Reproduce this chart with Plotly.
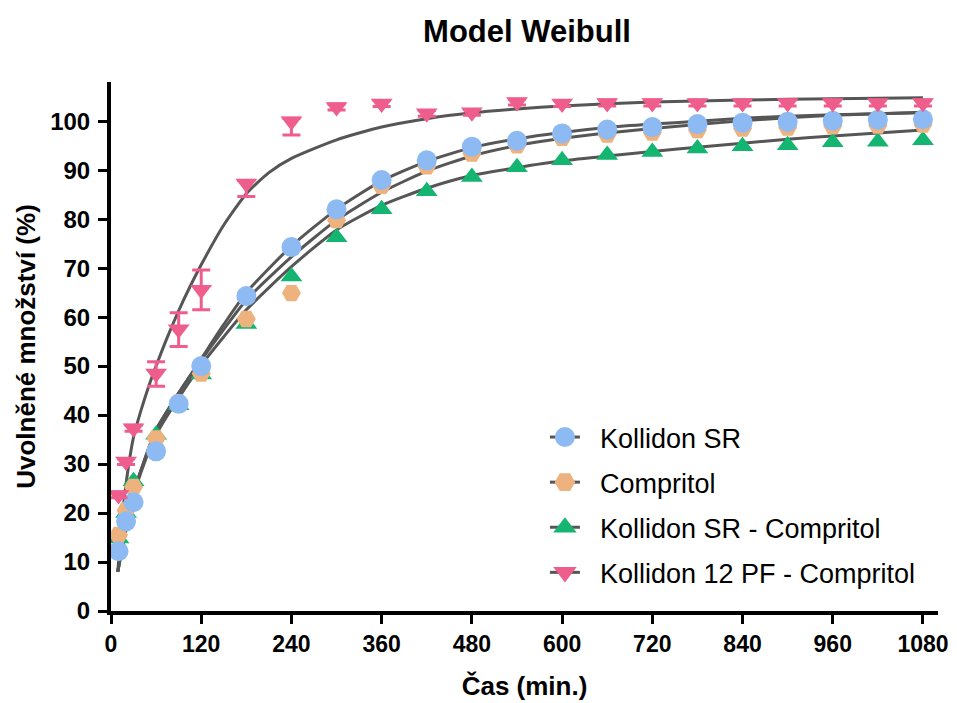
import plotly.graph_objects as go

# ---- measured data ----
time_min = [10, 20, 30, 60, 90, 120, 180, 240, 300, 360, 420, 480, 540, 600,
            660, 720, 780, 840, 900, 960, 1020, 1080]

kollidon_sr = [12.2, 18.3, 22.2, 32.6, 42.3, 50.0, 64.3, 74.3, 82.0, 88.0, 92.0,
               94.8, 96.0, 97.5, 98.3, 98.8, 99.4, 99.7, 99.9, 100.1, 100.3, 100.4]
compritol = [15.5, 20.5, 25.3, 35.2, 42.5, 48.5, 59.6, 64.9, 79.8, 86.8, 90.8,
             93.4, 95.1, 96.6, 97.3, 97.7, 98.2, 98.5, 98.7, 99.0, 99.1, 99.3]
ksr_compritol = [14.8, 20.0, 26.5, 36.0, 42.0, 48.3, 58.6, 68.3, 76.3, 82.0, 85.7,
                 88.6, 90.6, 92.0, 93.1, 93.7, 94.4, 94.9, 95.1, 95.7, 95.8, 96.1]
k12pf_compritol = [23.7, 30.5, 37.3, 48.5, 57.5, 65.6, 87.3, 100.0, 102.9, 103.6, 101.6,
                   101.8, 103.9, 103.6, 103.7, 103.7, 103.7, 103.7, 103.7, 103.7, 103.7, 103.7]
k12pf_err_plus = [0.6, 0.6, 0.6, 2.4, 3.4, 4.0, 0.6, 0.6, 0.6, 0.6, 0.6,
                  0.6, 0.6, 0.6, 0.6, 0.6, 0.6, 0.6, 0.6, 0.6, 0.6, 0.6]
k12pf_err_minus = [0.6, 0.6, 0.6, 2.6, 3.5, 4.1, 2.7, 2.8, 0.6, 0.6, 0.6,
                   0.6, 0.6, 0.6, 0.6, 0.6, 0.6, 0.6, 0.6, 0.6, 0.6, 0.6]

# Weibull fit curves
fit_t = [9, 15, 20, 30, 45, 60, 90, 120, 150, 180, 240, 300, 360, 420, 480, 540,
         600, 660, 720, 780, 840, 900, 960, 1020, 1080]
fit_ksr = [8.0, 13.0, 17.0, 24.0, 31.0, 37.0, 44.5, 51.5, 58.5, 65.0, 74.5, 82.0, 87.8,
           91.8, 94.6, 96.4, 97.7, 98.7, 99.4, 100.0, 100.6, 101.0, 101.3, 101.5, 101.7]
fit_comp = [8.0, 13.0, 17.0, 24.0, 31.0, 37.0, 44.5, 51.2, 57.5, 63.5, 72.3, 79.8, 85.5,
            89.8, 92.9, 95.0, 96.5, 97.6, 98.5, 99.3, 100.1, 100.7, 101.2, 101.5, 101.8]
fit_ksrc = [8.0, 13.0, 16.5, 23.5, 30.5, 36.0, 43.5, 50.2, 56.0, 61.5, 70.3, 77.8, 82.8,
            86.3, 88.9, 90.5, 91.9, 92.9, 93.8, 94.7, 95.5, 96.3, 97.0, 97.6, 98.2]
fit_t_pf = [9, 12, 15, 20, 30, 40, 50, 60, 75, 90, 105, 120, 150, 180, 210, 240, 300, 360,
            420, 480, 540, 600, 720, 840, 960, 1080]
fit_pf = [8.0, 14.0, 19.0, 26.0, 35.5, 41.0, 45.8, 50.0, 55.9, 61.3, 66.2, 70.7, 78.8, 85.2,
          89.5, 92.4, 96.2, 98.8, 100.5, 101.7, 102.5, 103.1, 103.9, 104.3, 104.6, 104.8]

names = ["Kollidon SR", "Compritol", "Kollidon SR - Compritol", "Kollidon 12 PF - Compritol"]
colors = ["#8dbaf2", "#edb27e", "#14b570", "#ee5d8c"]
symbols = ["circle", "hexagon2", "triangle-up", "triangle-down"]
sizes = [20, 19, 19, 19]
legend_outline = [4, 4, 2.5, 2.5]
LINE = "#565656"
FONT = "Liberation Sans, Arial, sans-serif"
NB = "\u00a0\u00a0"

fig = go.Figure()

# fit curves
for tt, vv in [(fit_t, fit_ksr), (fit_t, fit_comp), (fit_t, fit_ksrc), (fit_t_pf, fit_pf)]:
    fig.add_trace(go.Scatter(x=tt, y=vv, mode="lines", line=dict(color=LINE, width=3,
                             shape="spline", smoothing=0.6), showlegend=False,
                             hoverinfo="skip", cliponaxis=False))

# data markers (drawn green, orange, blue, pink)
series = [kollidon_sr, compritol, ksr_compritol, k12pf_compritol]
for i in [2, 1, 0, 3]:
    kw = {}
    if i == 3:
        kw["error_y"] = dict(type="data", array=k12pf_err_plus, arrayminus=k12pf_err_minus,
                             symmetric=False, color=colors[3], thickness=3, width=9)
    fig.add_trace(go.Scatter(x=time_min, y=series[i], mode="markers", name=names[i],
                             marker=dict(symbol=symbols[i], color=colors[i], size=sizes[i],
                                         line=dict(width=0)),
                             showlegend=False, cliponaxis=False, **kw))

# legend proxies (marker with fit line)
for i in range(4):
    fig.add_trace(go.Scatter(x=[None], y=[None], mode="lines+markers", name=NB + names[i],
                             line=dict(color=LINE, width=3),
                             marker=dict(symbol=symbols[i], color=colors[i], size=sizes[i],
                                         line=dict(width=legend_outline[i], color=colors[i])),
                             legendgroup=str(i)))

fig.update_layout(
    width=957, height=703,
    margin=dict(l=103, r=27, t=74, b=100),
    paper_bgcolor="white", plot_bgcolor="white",
    font=dict(family=FONT, color="black"),
    title=dict(text="Model Weibull", x=0.5423, xanchor="center", y=0.982, yanchor="top",
               yref="container", font=dict(size=31, weight="bold", family=FONT)),
    showlegend=True,
    legend=dict(x=0.5247, y=0.3743, xanchor="left", yanchor="top", bgcolor="rgba(0,0,0,0)",
                font=dict(size=27, family=FONT), tracegroupgap=7, itemsizing="trace"),
    xaxis=dict(range=[0, 1100], tickvals=[0, 120, 240, 360, 480, 600, 720, 840, 960, 1080],
               showgrid=False, zeroline=False, showline=True, linecolor="black", linewidth=4,
               ticks="outside", ticklen=9, tickwidth=3, tickcolor="black", automargin=False,
               tickfont=dict(size=23, weight="bold", family=FONT),
               title=dict(text="Čas (min.)", font=dict(size=26, weight="bold", family=FONT),
                          standoff=22)),
    yaxis=dict(range=[0, 108], tickvals=[0, 10, 20, 30, 40, 50, 60, 70, 80, 90, 100],
               showgrid=False, zeroline=False, showline=True, linecolor="black", linewidth=4,
               ticks="outside", ticklen=9, tickwidth=3, tickcolor="black", automargin=False,
               ticklabelstandoff=3,
               tickfont=dict(size=24, weight="bold", family=FONT),
               title=dict(text="Uvolněné množství (%)",
                          font=dict(size=26, weight="bold", family=FONT), standoff=8)),
)

fig.write_html("out.html")
